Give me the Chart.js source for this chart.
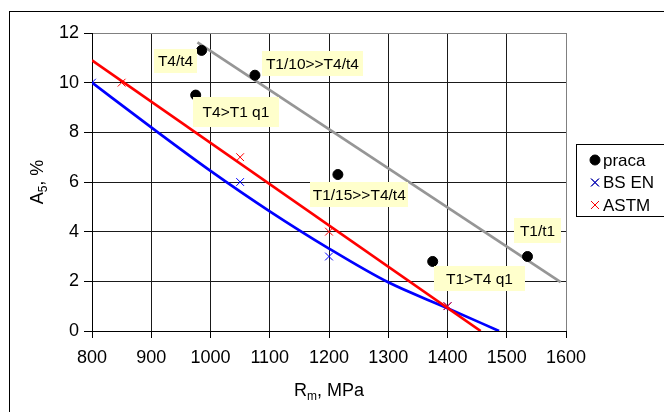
<!DOCTYPE html>
<html><head><meta charset="utf-8">
<script src="https://cdn.jsdelivr.net/npm/chart.js@4/dist/chart.umd.min.js"></script>
<style>html,body{margin:0;padding:0;background:#fff}</style>
</head><body><canvas id="c" width="664" height="412"></canvas>
<script>
// ---- data ----
const pracaX = [985, 975, 1075, 1215, 1375, 1535];
const pracaY = [11.3, 9.5, 10.3, 6.3, 2.8, 3.0];
const bsenX = [800, 1050, 1200, 1400];
const bsenY = [10, 6, 3, 1];
const astmX = [850, 1050, 1200, 1400];
const astmY = [10, 7, 4, 1];
const grayTrendX = [978, 1591];
const grayTrendY = [11.62, 1.97];
const astmTrendX = [800, 1456];
const astmTrendY = [10.9, 0];
const bsenTrendX = [800, 900, 1000, 1100, 1200, 1300, 1400, 1487];
const bsenTrendY = [10, 8.2, 6.45, 4.82, 3.32, 1.96, 0.92, 0];
const xMin = 800, xMax = 1600, xStep = 100;
const yMin = 0, yMax = 12, yStep = 2;
const seriesNames = ['praca', 'BS EN', 'ASTM'];
const noteTexts = ['T4/t4', 'T1/10>>T4/t4', 'T4>T1 q1', 'T1/15>>T4/t4', 'T1/t1', 'T1>T4 q1'];
const xTitle = [['R', false], ['m', true], [', MPa', false]];
const yTitle = [['A', false], ['5', true], [', %', false]];

// ---- annotation placement (data coords of box centres, box sizes in px) ----
const noteAtX = [941, 1172, 1043, 1251, 1552, 1454];
const noteAtY = [10.87, 10.77, 8.81, 5.49, 4.04, 2.11];
const noteW = [43, 101, 86, 98, 47, 91];
const noteH = [24, 25, 30, 25, 25, 25];

const pts = (xs, ys) => xs.map((x, i) => ({x, y: ys[i]}));
const FONT = '"Liberation Sans", Arial, sans-serif';

const decor = {
  id: 'decor',
  beforeDraw(chart) {
    const ctx = chart.ctx;
    ctx.save();
    ctx.fillStyle = '#fff';
    ctx.fillRect(0, 0, chart.width, chart.height);
    ctx.strokeStyle = '#000';
    ctx.lineWidth = 1;
    ctx.strokeRect(9.5, 11.5, 800, 600);
    ctx.restore();
  },
  afterDraw(chart) {
    const ctx = chart.ctx, xs = chart.scales.x, ys = chart.scales.y;
    ctx.save();
    // annotation boxes
    ctx.font = '15.5px ' + FONT;
    ctx.textAlign = 'center';
    ctx.textBaseline = 'middle';
    noteTexts.forEach((t, i) => {
      const cx = xs.getPixelForValue(noteAtX[i]);
      const cy = ys.getPixelForValue(noteAtY[i]);
      ctx.fillStyle = '#ffffcc';
      ctx.fillRect(Math.round(cx - noteW[i] / 2), Math.round(cy - noteH[i] / 2), noteW[i], noteH[i]);
      ctx.fillStyle = '#000';
      ctx.fillText(t, cx, cy + 1);
    });
    // legend
    const lx = 576.5, ly = 144.5;
    ctx.fillStyle = '#fff';
    ctx.fillRect(lx, ly, 120, 72);
    ctx.strokeStyle = '#000';
    ctx.lineWidth = 1;
    ctx.strokeRect(lx, ly, 120, 72);
    ctx.font = '17px ' + FONT;
    ctx.textAlign = 'left';
    ctx.textBaseline = 'middle';
    seriesNames.forEach((n, i) => {
      const ds = chart.data.datasets[i];
      const y = ly + 15.5 + i * 22.5;
      Chart.helpers.drawPoint(ctx, {
        pointStyle: ds.pointStyle, radius: ds.pointRadius, rotation: 0,
        borderWidth: ds.borderWidth
      }, 595, y);
      ctx.fillStyle = ds.pointBackgroundColor || ds.borderColor;
      ctx.strokeStyle = ds.borderColor;
      ctx.lineWidth = ds.borderWidth;
      if (ds.pointStyle === 'circle') { ctx.fill(); } else { ctx.stroke(); }
      ctx.fillStyle = '#000';
      ctx.fillText(n, 603, y + 1);
    });
    // axis titles with subscripts
    const drawSub = (parts, x, y) => {
      const big = '18px ' + FONT, small = '12px ' + FONT;
      let w = 0;
      parts.forEach(([s, sub]) => { ctx.font = sub ? small : big; w += ctx.measureText(s).width; });
      let px = x - w / 2;
      ctx.textAlign = 'left';
      ctx.textBaseline = 'alphabetic';
      parts.forEach(([s, sub]) => {
        ctx.font = sub ? small : big;
        ctx.fillText(s, px, y + (sub ? 4 : 0));
        px += ctx.measureText(s).width;
      });
    };
    ctx.fillStyle = '#000';
    const ca = chart.chartArea;
    drawSub(xTitle, (ca.left + ca.right) / 2, 396);
    ctx.save();
    ctx.translate(43, (ca.top + ca.bottom) / 2);
    ctx.rotate(-Math.PI / 2);
    drawSub(yTitle, 0, 0);
    ctx.restore();
    ctx.restore();
  }
};

new Chart(document.getElementById('c'), {
  type: 'scatter',
  data: {
    datasets: [
      { label: seriesNames[0], data: pts(pracaX, pracaY), pointStyle: 'circle', pointRadius: 5,
        pointBackgroundColor: '#000', borderColor: '#000', backgroundColor: '#000', borderWidth: 1, showLine: false, order: 0 },
      { label: seriesNames[1], data: pts(bsenX, bsenY), pointStyle: 'crossRot', pointRadius: 5.5,
        borderColor: '#0000ff', backgroundColor: '#0000ff', borderWidth: 1, showLine: false, order: 5 },
      { label: seriesNames[2], data: pts(astmX, astmY), pointStyle: 'crossRot', pointRadius: 5.5,
        borderColor: '#ff0000', backgroundColor: '#ff0000', borderWidth: 1, showLine: false, order: 4 },
      { label: 'trend praca', data: pts(grayTrendX, grayTrendY), showLine: true, pointRadius: 0,
        borderColor: '#969696', borderWidth: 2.7, order: 3 },
      { label: 'trend ASTM', data: pts(astmTrendX, astmTrendY), showLine: true, pointRadius: 0,
        borderColor: '#ff0000', borderWidth: 2.7, order: 1 },
      { label: 'trend BS EN', data: pts(bsenTrendX, bsenTrendY), showLine: true, pointRadius: 0,
        borderColor: '#0000ff', borderWidth: 2.7, cubicInterpolationMode: 'monotone', order: 2 }
    ]
  },
  options: {
    responsive: false,
    animation: false,
    devicePixelRatio: 1,
    layout: { padding: { top: 33, right: 98, left: 0, bottom: 0 } },
    plugins: { legend: { display: false }, tooltip: { enabled: false } },
    scales: {
      x: {
        type: 'linear', min: xMin, max: xMax,
        afterFit: s => { s.height = 81; },
        ticks: { stepSize: xStep, color: '#000', font: { family: FONT, size: 18 }, padding: 9, maxRotation: 0,
                 callback: v => String(v) },
        grid: { color: c => (c.tick && c.tick.value === xMax) ? '#808080' : '#1a1a1a', lineWidth: 1, tickLength: 7, tickColor: '#000' },
        border: { display: true, color: '#000', width: 1 }
      },
      y: {
        min: yMin, max: yMax,
        afterFit: s => { s.width = 92; },
        ticks: { stepSize: yStep, color: '#000', font: { family: FONT, size: 18 }, padding: 5,
                 callback: v => String(v) },
        grid: { color: c => (c.tick && c.tick.value === yMax) ? '#808080' : '#1a1a1a', lineWidth: 1, tickLength: 8, tickColor: '#000' },
        border: { display: true, color: '#000', width: 1 }
      }
    }
  },
  plugins: [decor]
});
</script>
</body></html>
